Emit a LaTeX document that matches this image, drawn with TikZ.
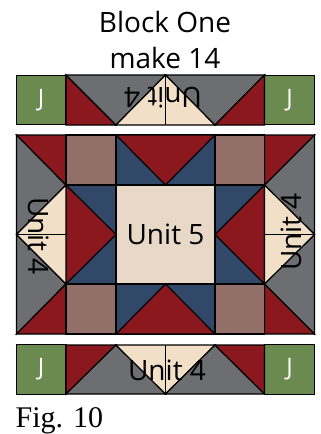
\documentclass[tikz,border=0pt]{standalone}
\usepackage{fontspec}
\setmainfont{Liberation Serif}
\newfontfamily\quiltfont{Open Sans}
\definecolor{quiltred}{RGB}{138,24,30}
\definecolor{quiltgray}{RGB}{109,110,113}
\definecolor{quiltblue}{RGB}{50,72,105}
\definecolor{quiltbrown}{RGB}{146,112,105}
\definecolor{quiltcream}{RGB}{242,223,200}
\definecolor{quiltcenter}{RGB}{232,216,200}
\definecolor{quiltgreen}{RGB}{106,138,80}
\tikzset{
  patch/.style={draw=black, line width=1.2pt, line join=miter},
  redpatch/.style={patch, fill=quiltred},
  graypatch/.style={patch, fill=quiltgray},
  bluepatch/.style={patch, fill=quiltblue},
  brownpatch/.style={patch, fill=quiltbrown},
  creampatch/.style={patch, fill=quiltcream},
  jsquare/.style={
    patch,
    fill=quiltgreen,
    text=white,
    minimum width=49.7pt,
    minimum height=49.7pt,
    inner sep=0pt,
    font=\quiltfont\fontsize{24}{24}\selectfont
  },
  unitlabel/.style={
    inner sep=0pt,
    text=black,
    font=\quiltfont\fontsize{28}{28}\selectfont
  }
}

\begin{document}
\begin{tikzpicture}[x=1pt,y=-1pt]
\useasboundingbox (0,0) rectangle (321,434);
% title
\node[inner sep=0pt, align=center, font=\quiltfont\fontsize{28}{36}\selectfont] (title) at (165,39.5) {Block One\\make 14};
% top strip
\node[jsquare] (jtopleft) at (41.2,100) {J};
\node[jsquare] (jtopright) at (289.5,100) {J};
\draw[redpatch] (66,75) -- (116,125) -- (66,125) -- cycle;
\draw[graypatch] (66,75) -- (165.5,75) -- (116,125) -- cycle;
\draw[creampatch] (116,125) -- (165.5,75) -- (215,125) -- cycle;
\draw[patch] (165.5,75) -- (165.5,125);
\draw[graypatch] (165.5,75) -- (264.5,75) -- (215,125) -- cycle;
\draw[redpatch] (264.5,75) -- (264.5,125) -- (215,125) -- cycle;
% left and right columns, grey runs through the corners
\draw[graypatch] (16.5,135) -- (66,185) -- (16.5,234.5) -- (66,284) -- (16.5,334) -- cycle;
\draw[graypatch] (314.5,135) -- (264.5,185) -- (314.5,234.5) -- (264.5,284) -- (314.5,334) -- cycle;
\draw[redpatch] (16.5,135) -- (66,135) -- (66,185) -- cycle;
\draw[redpatch] (264.5,135) -- (314.5,135) -- (264.5,185) -- cycle;
\draw[redpatch] (66,284) -- (66,334) -- (16.5,334) -- cycle;
\draw[redpatch] (264.5,284) -- (314.5,334) -- (264.5,334) -- cycle;
% brown squares
\foreach \x in {66,215} {
  \foreach \y in {135,284} {
    \draw[brownpatch] (\x,\y) rectangle ++(49.7,49.9);
  }
}
% blue and red around the centre
\draw[bluepatch] (116,135) rectangle (215,185);
\draw[bluepatch] (116,284) rectangle (215,334);
\draw[bluepatch] (66,185) rectangle (116,284);
\draw[bluepatch] (215,185) rectangle (264.5,284);
\draw[redpatch] (116,135) -- (215,135) -- (165.5,185) -- cycle;
\draw[redpatch] (116,334) -- (215,334) -- (165.5,284) -- cycle;
\draw[redpatch] (66,185) -- (66,284) -- (116,234.5) -- cycle;
\draw[redpatch] (264.5,185) -- (264.5,284) -- (215,234.5) -- cycle;
\draw[creampatch] (66,185) -- (16.5,234.5) -- (66,284) -- cycle;
\draw[patch] (16.5,234.5) -- (66,234.5);
\draw[creampatch] (264.5,185) -- (314.5,234.5) -- (264.5,284) -- cycle;
\draw[patch] (264.5,234.5) -- (314.5,234.5);
% bottom strip
\node[jsquare] (jbottomleft) at (41.2,369.5) {J};
\node[jsquare] (jbottomright) at (289.5,369.5) {J};
\draw[redpatch] (66,345) -- (116,345) -- (66,394) -- cycle;
\draw[graypatch] (66,394) -- (116,345) -- (165.5,394) -- cycle;
\draw[creampatch] (116,345) -- (215,345) -- (165.5,394) -- cycle;
\draw[patch] (165.5,345) -- (165.5,394);
\draw[graypatch] (165.5,394) -- (215,345) -- (264.5,394) -- cycle;
\draw[redpatch] (215,345) -- (264.5,345) -- (264.5,394) -- cycle;
% centre square and labels
\node[patch, fill=quiltcenter, minimum width=99pt, minimum height=99pt, inner sep=0pt,
  font=\quiltfont\fontsize{28}{28}\selectfont] (unitfive) at (165.5,234.5) {Unit 5};
\node[unitlabel, rotate=180] (unittop) at (163,98) {Unit 4};
\node[unitlabel, rotate=-90] (unitleft) at (39,236) {Unit 4};
\node[unitlabel, rotate=90] (unitright) at (291,232) {Unit 4};
\node[unitlabel] (unitbottom) at (167,370) {Unit 4};
\node[anchor=base west, inner sep=0pt, font=\fontsize{30}{30}\selectfont] (figlabel) at (15.5,427) {Fig. 10};
\end{tikzpicture}
\end{document}
